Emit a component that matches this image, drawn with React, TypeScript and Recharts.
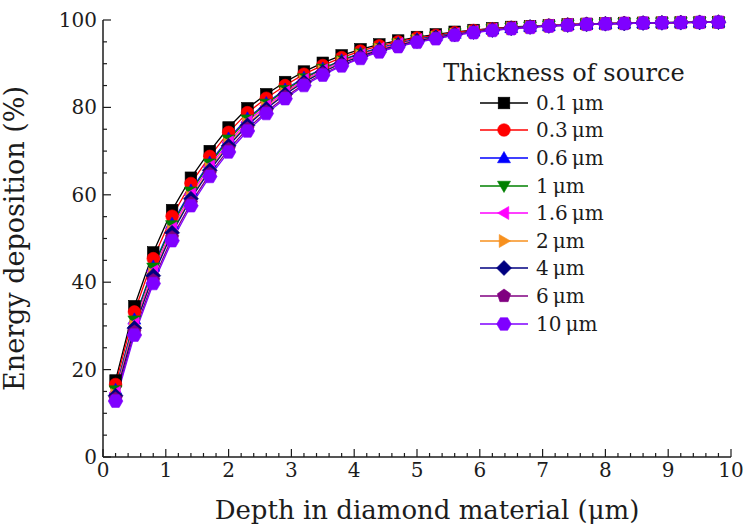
import React from 'react'
import { LineChart, Line, XAxis, YAxis, Legend } from 'recharts'

const FONT = '"DejaVu Serif", "Liberation Serif", serif'
const INK = '#1c1c1c'

// depth in diamond (µm)
const depth = [
  0.2, 0.5, 0.8, 1.1, 1.4, 1.7, 2.0, 2.3, 2.6, 2.9, 3.2, 3.5, 3.8, 4.1, 4.4, 4.7, 5.0,
  5.3, 5.6, 5.9, 6.2, 6.5, 6.8, 7.1, 7.4, 7.7, 8.0, 8.3, 8.6, 8.9, 9.2, 9.5, 9.8,
]

// energy deposition (%) for each source thickness
const t01 = [
  17.5, 34.5, 46.8, 56.5, 63.9, 70.0, 75.4, 79.8, 83.0, 85.8, 88.2, 90.2, 91.9, 93.3, 94.4, 95.3, 96.1,
  96.7, 97.3, 97.7, 98.1, 98.4, 98.6, 98.8, 99.0, 99.1, 99.2, 99.3, 99.35, 99.4, 99.45, 99.5, 99.5,
]
const t03 = [
  16.6, 33.2, 45.4, 55.1, 62.6, 68.8, 74.3, 78.8, 82.1, 85.0, 87.6, 89.6, 91.4, 92.9, 94.1, 95.0, 95.9,
  96.5, 97.1, 97.6, 98.0, 98.3, 98.5, 98.8, 99.0, 99.1, 99.2, 99.3, 99.35, 99.4, 99.45, 99.5, 99.5,
]
const t06 = [
  15.4, 31.5, 43.6, 53.4, 61.0, 67.4, 72.9, 77.5, 81.0, 84.1, 86.8, 88.9, 90.8, 92.4, 93.6, 94.7, 95.6,
  96.3, 96.9, 97.4, 97.9, 98.2, 98.5, 98.7, 98.9, 99.05, 99.15, 99.25, 99.3, 99.4, 99.45, 99.5, 99.5,
]
const t1 = [
  15.2, 31.2, 43.3, 53.0, 60.7, 67.1, 72.6, 77.2, 80.8, 83.9, 86.6, 88.8, 90.7, 92.3, 93.5, 94.6, 95.5,
  96.2, 96.9, 97.4, 97.85, 98.2, 98.45, 98.7, 98.9, 99.05, 99.15, 99.25, 99.3, 99.4, 99.45, 99.5, 99.5,
]
const t16 = [
  14.7, 30.5, 42.5, 52.3, 60.1, 66.5, 72.0, 76.7, 80.4, 83.5, 86.3, 88.5, 90.5, 92.0, 93.4, 94.5, 95.4,
  96.1, 96.8, 97.3, 97.8, 98.15, 98.4, 98.7, 98.9, 99.05, 99.15, 99.25, 99.3, 99.35, 99.4, 99.45, 99.5,
]
const t2 = [
  14.2, 29.9, 41.8, 51.6, 59.4, 65.9, 71.5, 76.2, 79.9, 83.1, 86.0, 88.2, 90.2, 91.8, 93.2, 94.3, 95.3,
  96.0, 96.7, 97.3, 97.75, 98.1, 98.4, 98.65, 98.85, 99.0, 99.15, 99.2, 99.3, 99.35, 99.4, 99.45, 99.5,
]
const t4 = [
  14.0, 29.5, 41.5, 51.3, 59.1, 65.6, 71.2, 75.9, 79.7, 83.0, 85.8, 88.1, 90.1, 91.7, 93.1, 94.2, 95.2,
  96.0, 96.7, 97.25, 97.7, 98.1, 98.4, 98.65, 98.85, 99.0, 99.15, 99.2, 99.3, 99.35, 99.4, 99.45, 99.5,
]
const t6 = [
  13.3, 28.6, 40.4, 50.2, 58.1, 64.8, 70.4, 75.1, 79.0, 82.4, 85.3, 87.7, 89.7, 91.4, 92.9, 94.0, 95.0,
  95.8, 96.6, 97.15, 97.65, 98.05, 98.35, 98.6, 98.8, 99.0, 99.1, 99.2, 99.3, 99.35, 99.4, 99.45, 99.5,
]
const t10 = [
  12.8, 27.9, 39.7, 49.5, 57.5, 64.2, 69.8, 74.6, 78.6, 82.0, 85.0, 87.4, 89.5, 91.2, 92.7, 93.9, 94.9,
  95.7, 96.5, 97.1, 97.6, 98.0, 98.3, 98.6, 98.8, 99.0, 99.1, 99.2, 99.3, 99.35, 99.4, 99.45, 99.5,
]

const xMajor = [0, 1, 2, 3, 4, 5, 6, 7, 8, 9, 10]
const xMinor = Array.from({ length: 51 }, (_, i) => i / 5)
const yMajor = [0, 20, 40, 60, 80, 100]
const yMinor = Array.from({ length: 21 }, (_, i) => i * 5)

type Shape = 'square' | 'circle' | 'up' | 'down' | 'left' | 'right' | 'diamond' | 'pentagon' | 'hexagon'

const series: { key: string; name: string; color: string; shape: Shape; values: number[] }[] = [
  { key: 't01', name: '0.1\u2009μm', color: '#000000', shape: 'square', values: t01 },
  { key: 't03', name: '0.3\u2009μm', color: '#ff0000', shape: 'circle', values: t03 },
  { key: 't06', name: '0.6\u2009μm', color: '#0000ff', shape: 'up', values: t06 },
  { key: 't1', name: '1\u2009μm', color: '#008000', shape: 'down', values: t1 },
  { key: 't16', name: '1.6\u2009μm', color: '#ff00ff', shape: 'left', values: t16 },
  { key: 't2', name: '2\u2009μm', color: '#f7901e', shape: 'right', values: t2 },
  { key: 't4', name: '4\u2009μm', color: '#000080', shape: 'diamond', values: t4 },
  { key: 't6', name: '6\u2009μm', color: '#800080', shape: 'pentagon', values: t6 },
  { key: 't10', name: '10\u2009μm', color: '#7f00ff', shape: 'hexagon', values: t10 },
]

const rows = depth.map((x, i) => {
  const row: Record<string, number> = { x }
  series.forEach(s => {
    row[s.key] = s.values[i]
  })
  return row
})

const poly = (cx: number, cy: number, r: number, n: number, start: number) =>
  Array.from({ length: n }, (_, k) => {
    const a = ((start + (360 / n) * k) * Math.PI) / 180
    return `${cx + r * Math.cos(a)},${cy + r * Math.sin(a)}`
  }).join(' ')

function Marker({ shape, cx, cy, color }: { shape: Shape; cx: number; cy: number; color: string }) {
  const s = 7
  const common = { fill: color, stroke: color, strokeWidth: 0.6 }
  switch (shape) {
    case 'square':
      return <rect x={cx - 5.8} y={cy - 5.8} width={11.6} height={11.6} {...common} />
    case 'circle':
      return <circle cx={cx} cy={cy} r={6.3} {...common} />
    case 'up':
      return <polygon points={poly(cx, cy + 1, s + 0.5, 3, -90)} {...common} />
    case 'down':
      return <polygon points={poly(cx, cy - 1, s + 0.5, 3, 90)} {...common} />
    case 'left':
      return <polygon points={poly(cx + 1, cy, s + 0.5, 3, 180)} {...common} />
    case 'right':
      return <polygon points={poly(cx - 1, cy, s + 0.5, 3, 0)} {...common} />
    case 'diamond':
      return <polygon points={poly(cx, cy, s + 0.5, 4, 0)} {...common} />
    case 'pentagon':
      return <polygon points={poly(cx, cy, s, 5, -90)} {...common} />
    default:
      return <polygon points={poly(cx, cy, s + 0.3, 6, 0)} {...common} />
  }
}

const isMajor = (v: number, list: number[]) => list.some(m => Math.abs(m - v) < 1e-6)

function XTick(props: any) {
  const { x, y, payload } = props
  const major = isMajor(payload.value, xMajor)
  return (
    <g>
      <line x1={x} x2={x} y1={y} y2={y - (major ? 8 : 4)} stroke={INK} strokeWidth={1.2} />
      {major && (
        <text x={x} y={y + 20} textAnchor="middle" fontFamily={FONT} fontSize={20} fill={INK}>
          {payload.value}
        </text>
      )}
    </g>
  )
}

function YTick(props: any) {
  const { x, y, payload } = props
  const major = isMajor(payload.value, yMajor)
  return (
    <g>
      <line x1={x} x2={x + (major ? 8 : 4)} y1={y} y2={y} stroke={INK} strokeWidth={1.2} />
      {major && (
        <text x={x - 6} y={y + 7} textAnchor="end" fontFamily={FONT} fontSize={20} fill={INK}>
          {payload.value}
        </text>
      )}
    </g>
  )
}

function LegendBox() {
  return (
    <div style={{ fontFamily: FONT, color: INK, width: 256 }}>
      <div style={{ fontSize: 24, textAlign: 'center', lineHeight: '32px', whiteSpace: 'nowrap' }}>
        Thickness of source
      </div>
      {series.map(s => (
        <div key={s.key} style={{ display: 'flex', alignItems: 'center', height: 27.6, marginLeft: 44 }}>
          <svg width={48} height={18} style={{ display: 'block' }}>
            <line x1={0} x2={48} y1={9} y2={9} stroke={s.color} strokeWidth={1.5} />
            <Marker shape={s.shape} cx={24} cy={9} color={s.color} />
          </svg>
          <span style={{ marginLeft: 8, fontSize: 20, whiteSpace: 'nowrap' }}>{s.name}</span>
        </div>
      ))}
    </div>
  )
}

export default function App() {
  return (
    <div style={{ position: 'absolute', left: 0, top: 0, background: '#fff' }}>
      <LineChart width={744} height={530} data={rows} margin={{ top: 20, right: 13, left: 0, bottom: 0 }}>
        <XAxis
          xAxisId={0}
          type="number"
          dataKey="x"
          domain={[0, 10]}
          ticks={xMinor}
          interval={0}
          tickSize={0}
          tickMargin={0}
          tick={<XTick />}
          height={73}
          axisLine={{ stroke: INK, strokeWidth: 1.5 }}
          tickLine={false}
          label={{
            value: 'Depth in diamond material (μm)',
            position: 'insideBottom',
            offset: 11,
            dx: 10,
            style: { fontFamily: FONT, fontSize: 26, fill: INK },
          }}
        />
        <XAxis
          xAxisId="top"
          orientation="top"
          type="number"
          domain={[0, 10]}
          height={0}
          tick={false}
          tickLine={false}
          axisLine={{ stroke: '#555', strokeWidth: 2 }}
        />
        <YAxis
          yAxisId={0}
          type="number"
          domain={[0, 100]}
          ticks={yMinor}
          interval={0}
          tickSize={0}
          tickMargin={0}
          tick={<YTick />}
          width={103}
          axisLine={{ stroke: INK, strokeWidth: 1.5 }}
          tickLine={false}
          label={{
            value: 'Energy deposition (%)',
            angle: -90,
            position: 'insideLeft',
            offset: 14,
            style: { fontFamily: FONT, fontSize: 27, fill: INK, textAnchor: 'middle' },
          }}
        />
        <YAxis
          yAxisId="right"
          orientation="right"
          type="number"
          domain={[0, 100]}
          width={0}
          tick={false}
          tickLine={false}
          axisLine={{ stroke: INK, strokeWidth: 1.5 }}
        />
        <Legend
          layout="vertical"
          align="center"
          verticalAlign="middle"
          content={<LegendBox />}
          wrapperStyle={{ left: 436, top: 57, width: 256, height: 'auto' }}
        />
        {series.map(s => (
          <Line
            key={s.key}
            xAxisId={0}
            yAxisId={0}
            type="linear"
            dataKey={s.key}
            name={s.name}
            stroke={s.color}
            strokeWidth={1.3}
            isAnimationActive={false}
            activeDot={false}
            dot={(p: any) => (
              <Marker key={`${s.key}-${p.index}`} shape={s.shape} cx={p.cx} cy={p.cy} color={s.color} />
            )}
          />
        ))}
      </LineChart>
    </div>
  )
}
